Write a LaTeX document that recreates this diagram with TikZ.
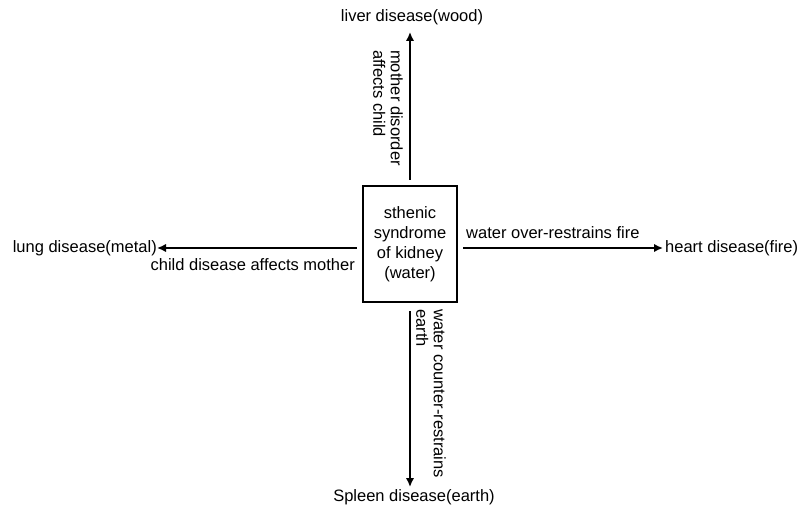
\documentclass[tikz,border=0pt]{standalone}
\usepackage{fontspec}
\setmainfont{Liberation Sans}
\usetikzlibrary{arrows.meta}
\begin{document}
\begin{tikzpicture}[x=1pt,y=-1pt,
  lbl/.style={font=\fontsize{16.5}{19.8}\selectfont, inner sep=0pt},
  rlbl/.style={font=\fontsize{16.5}{17.5}\selectfont, inner sep=0pt, align=left, rotate=-90},
  arr/.style={line width=2.2pt, -{Latex[length=9pt,width=8.5pt]}},
  centerbox/.style={draw, line width=2.2pt, minimum width=94pt, minimum height=116pt, inner sep=0pt, align=center, font=\fontsize{16.5}{20}\selectfont}]
\useasboundingbox (0,0) rectangle (803,510);
\node[centerbox] (box) at (410,244) {sthenic\\syndrome\\of kidney\\(water)};
\node[lbl] (liver) at (412,17) {liver disease(wood)};
\node[lbl] (spleen) at (414,497) {Spleen disease(earth)};
\node[lbl, anchor=east] (lung) at (157,248) {lung disease(metal)};
\node[lbl, anchor=west] (heart) at (665,248) {heart disease(fire)};
\coordinate (tT) at (410,32);
\coordinate (tB) at (410,487);
\coordinate (tL) at (157,248);
\coordinate (tR) at (663,248);
\draw[arr] (box.north) ++(0,-5) -- (tT);
\draw[arr] (box.south) ++(0,8) -- (tB);
\draw[arr] (box.west) ++(-5,4) -- (tL);
\draw[arr] (box.east) ++(5,4) -- (tR);
\node[lbl, anchor=base west] (ro) at (466,239) {water over-restrains fire};
\node[lbl, anchor=base east] (cd) at (355,271) {child disease affects mother};
\node[rlbl, anchor=north west] (md) at (403,50) {mother disorder\\affects child};
\node[rlbl, anchor=south west] (wc) at (416,309) {water counter-restrains\\earth};
\end{tikzpicture}
\end{document}
